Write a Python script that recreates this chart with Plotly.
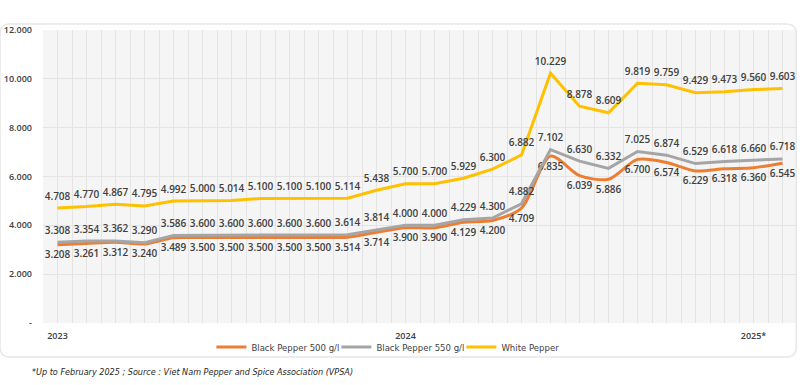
import plotly.graph_objects as go

months = list(range(26))  # Jan 2023 .. Feb 2025
tick_pos = [0, 12, 24]
tick_text = ["2023", "2024", "2025*"]

black500 = [3208, 3261, 3312, 3240, 3489, 3500, 3500, 3500, 3500, 3500, 3514, 3714, 3900,
            3900, 4129, 4200, 4709, 6835, 6039, 5886, 6700, 6574, 6229, 6318, 6360, 6545]
black550 = [3308, 3354, 3362, 3290, 3586, 3600, 3600, 3600, 3600, 3600, 3614, 3814, 4000,
            4000, 4229, 4300, 4882, 7102, 6630, 6332, 7025, 6874, 6529, 6618, 6660, 6718]
white = [4708, 4770, 4867, 4795, 4992, 5000, 5014, 5100, 5100, 5100, 5114, 5438, 5700,
         5700, 5929, 6300, 6882, 10229, 8878, 8609, 9819, 9759, 9429, 9473, 9560, 9603]

y_ticks = [0, 2000, 4000, 6000, 8000, 10000, 12000]
y_text = ["-", "2.000", "4.000", "6.000", "8.000", "10.000", "12.000"]


def fmt(v):
    return f"{v/1000:.3f}"


label_font = dict(family="Open Sans", size=10, color="#404040", weight=600)
ghost = dict(size=8, color="rgba(0,0,0,0)")

fig = go.Figure()
fig.add_trace(go.Scatter(
    x=months, y=black500, name="Black Pepper 500 g/l", mode="lines+markers+text",
    line=dict(color="#ED7D31", width=3, shape="spline", smoothing=0.8), marker=ghost,
    text=[fmt(v) for v in black500], textposition="bottom center",
    textfont=label_font, cliponaxis=False))
fig.add_trace(go.Scatter(
    x=months, y=black550, name="Black Pepper 550 g/l", mode="lines+markers+text",
    line=dict(color="#A5A5A5", width=3), marker=ghost,
    text=[fmt(v) for v in black550], textposition="top center",
    textfont=label_font, cliponaxis=False))
fig.add_trace(go.Scatter(
    x=months, y=white, name="White Pepper", mode="lines+markers+text",
    line=dict(color="#FFC000", width=3), marker=ghost,
    text=[fmt(v) for v in white], textposition="top center",
    textfont=label_font, cliponaxis=False))

# rounded card outline in paper coords
L, R, T, B = -0.057, 0.999, 1.0205, -0.116
rx, ry = 10 / 754, 10 / 293
card = (f"M {L+rx},{T} L {R-rx},{T} Q {R},{T} {R},{T-ry} L {R},{B+ry} Q {R},{B} {R-rx},{B} "
        f"L {L+rx},{B} Q {L},{B} {L},{B+ry} L {L},{T-ry} Q {L},{T} {L+rx},{T} Z")

narrow = "Liberation Sans Narrow, DejaVu Sans Condensed, Roboto, sans-serif"

fig.update_layout(
    width=800, height=385,
    margin=dict(l=43, r=3, t=30, b=62),
    paper_bgcolor="white", plot_bgcolor="#f5f5f5",
    showlegend=True,
    legend=dict(orientation="h", x=0.472, xanchor="center", y=-0.082, yanchor="middle",
                font=dict(family=narrow, size=9.5, color="#404040"),
                itemwidth=30, entrywidth=80, tracegroupgap=0, bgcolor="rgba(0,0,0,0)"),
    xaxis=dict(range=[-0.5, 25.5], tickmode="array", tickvals=tick_pos, ticktext=tick_text,
               showgrid=False, zeroline=False, showline=False, ticks="", automargin=False,
               ticklabelstandoff=6,
               tickfont=dict(family="Open Sans", size=9, color="#404040", weight=600),
               minor=dict(tickmode="linear", tick0=-0.5, dtick=0.5, showgrid=True,
                          gridcolor="#e4e4e4", gridwidth=1, ticks="")),
    yaxis=dict(range=[0, 12000], tickmode="array", tickvals=y_ticks, ticktext=y_text,
               showgrid=True, gridcolor="#e4e4e4", zeroline=False, showline=False,
               ticks="", ticklabelstandoff=10, automargin=False,
               tickfont=dict(family="Open Sans", size=9, color="#404040", weight=600)),
    shapes=[dict(type="path", xref="paper", yref="paper", path=card,
                 line=dict(color="#e8e8e8", width=1.5), layer="below")],
    annotations=[dict(text="<i>*Up to February 2025 ; Source : Viet Nam Pepper and Spice Association (VPSA)</i>",
                      xref="paper", yref="paper", x=-0.0172, y=-0.167, xanchor="left", yanchor="middle",
                      showarrow=False,
                      font=dict(family=narrow, size=9, color="#262626"))],
)

fig.write_html("out.html", config={"displayModeBar": False},
               post_script="document.body.style.margin='0px';")
